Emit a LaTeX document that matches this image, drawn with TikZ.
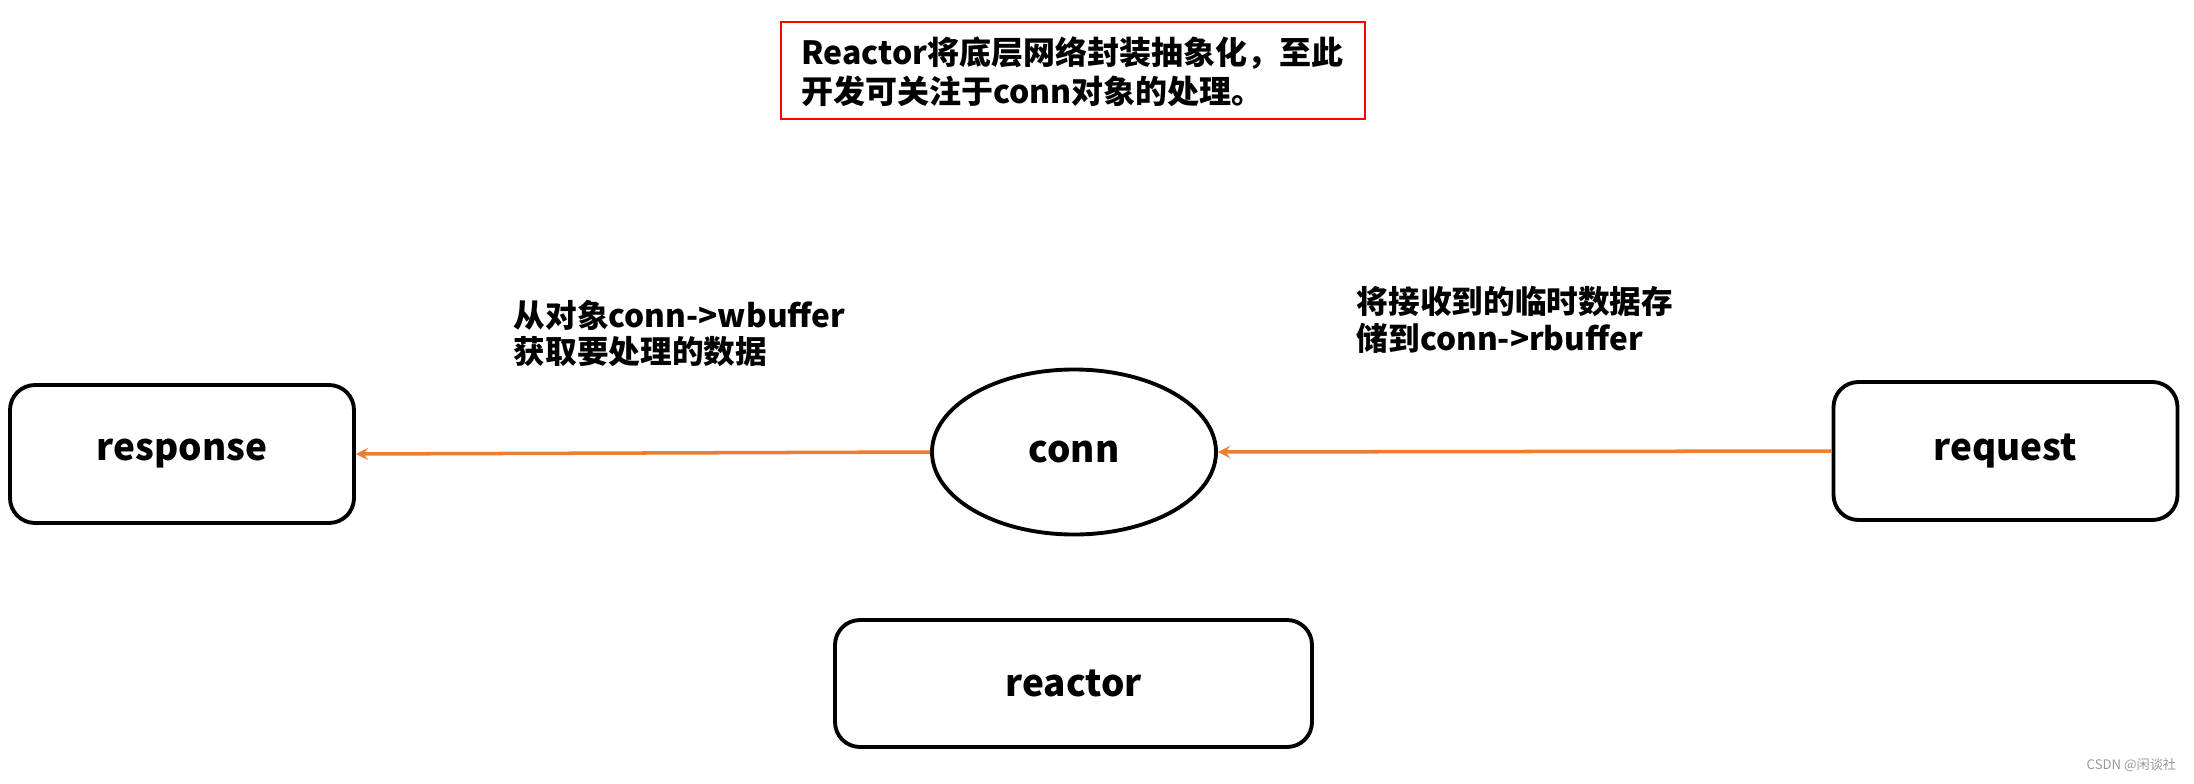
\documentclass[tikz,border=0pt]{standalone}
\usepackage{fontspec}
\setmainfont{Noto Sans CJK SC}
\usetikzlibrary{shapes.geometric}
\definecolor{arroworange}{HTML}{ED7D31}

\begin{document}
\begin{tikzpicture}[inner sep=2pt,
            every node/.style={font=\bfseries},
            blockbox/.style={draw,line width=2.2pt,rounded corners=0.5cm,minimum width=6.88cm,minimum height=2.76cm,font=\bfseries\fontsize{21}{26}\selectfont},
            remark/.style={align=left,anchor=west,font=\bfseries\fontsize{18}{21}\selectfont}]
                \useasboundingbox (0,0) rectangle (43.88,15.66);
                \node[blockbox](response) at (3.64, 6.58) {response};
                \node[blockbox](request) at (40.11, 6.64) {request};
                \node[draw,ellipse,line width=2.2pt,minimum width=5.68cm,minimum height=3.3cm,font=\bfseries\fontsize{21}{26}\selectfont](conn) at (21.48, 6.62) {conn};
                \node[blockbox,minimum width=9.54cm,minimum height=2.54cm](reactor) at (21.47, 1.99) {reactor};
                \node[draw=red,line width=1.1pt,minimum width=11.68cm,minimum height=1.94cm](notebox) at (21.46, 14.25) {};
                \node[anchor=west,align=left,font=\bfseries\fontsize{18.2}{22}\selectfont](note) at (15.95, 14.23) {Reactor将底层网络封装抽象化，至此\\开发可关注于conn对象的处理。};
                \node[remark](wlabel) at (10.2, 8.99) {从对象conn->wbuffer\\获取要处理的数据};
                \node[remark](rlabel) at (27.06, 9.26) {将接收到的临时数据存\\储到conn->rbuffer};
                \node[anchor=east,text=black!40,font=\fontsize{7.5}{9}\selectfont](mark) at (43.6, 0.36) {CSDN @闲谈社};

            \begin{scope}[-stealth, line width=2pt, arroworange]
                \draw(conn.west)--(response.east);
                \draw(request.west)--(conn.east);
            \end{scope}
        \end{tikzpicture}
\end{document}
